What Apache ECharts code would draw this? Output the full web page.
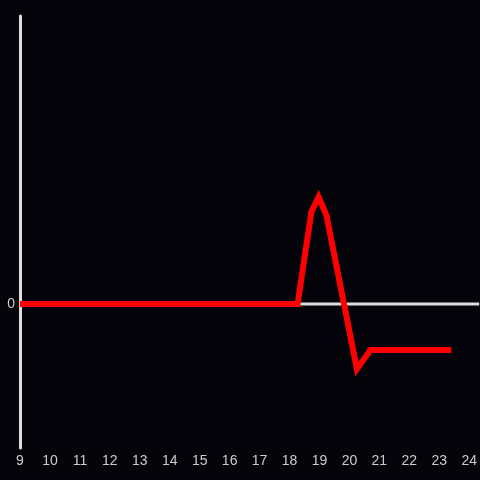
<!DOCTYPE html>
<html>
<head>
<meta charset="utf-8">
<script src="https://cdn.jsdelivr.net/npm/echarts@6/dist/echarts.min.js"></script>
<style>
html,body{margin:0;padding:0;background:#05040a;}
#c{width:480px;height:480px;}
</style>
</head>
<body>
<div id="c"></div>
<script>
var hours = [9, 18.27, 18.73, 18.97, 19.23, 20.25, 20.7, 23.4];
var values = [0, 0, 0.92, 1.07, 0.89, -0.65, -0.46, -0.46];
var tickHours = [9,10,11,12,13,14,15,16,17,18,19,20,21,22,23,24];
var yTicks = [0];
var xRange = [9, 24.333];
var yRange = [-1.44, 2.88];

var chart = echarts.init(document.getElementById('c'));
chart.setOption({
  backgroundColor: '#05040a',
  animation: false,
  grid: {left: 20, right: 0, top: 16, bottom: 32},
  xAxis: {
    type: 'value', min: xRange[0], max: xRange[1], interval: 1,
    axisLine: {show: false}, axisTick: {show: false}, splitLine: {show: false},
    axisLabel: {customValues: tickHours, color: '#cccccc', fontSize: 14, margin: 6, fontFamily: 'sans-serif'}
  },
  yAxis: {
    type: 'value', min: yRange[0], max: yRange[1],
    axisLine: {show: true, lineStyle: {color: '#dddddd', width: 3}},
    axisTick: {show: false}, splitLine: {show: false},
    axisLabel: {customValues: yTicks, color: '#cccccc', fontSize: 14, margin: 5, fontFamily: 'sans-serif'}
  },
  series: [
    {
      type: 'line', z: 1, symbol: 'none', silent: true,
      data: [[xRange[0], 0], [xRange[1], 0]],
      lineStyle: {color: '#dddddd', width: 3}
    },
    {
      type: 'line', z: 2, symbol: 'none',
      data: hours.map(function(h, i){ return [h, values[i]]; }),
      lineStyle: {color: '#ff0000', width: 6, join: 'miter'}
    }
  ]
});
</script>
</body>
</html>
